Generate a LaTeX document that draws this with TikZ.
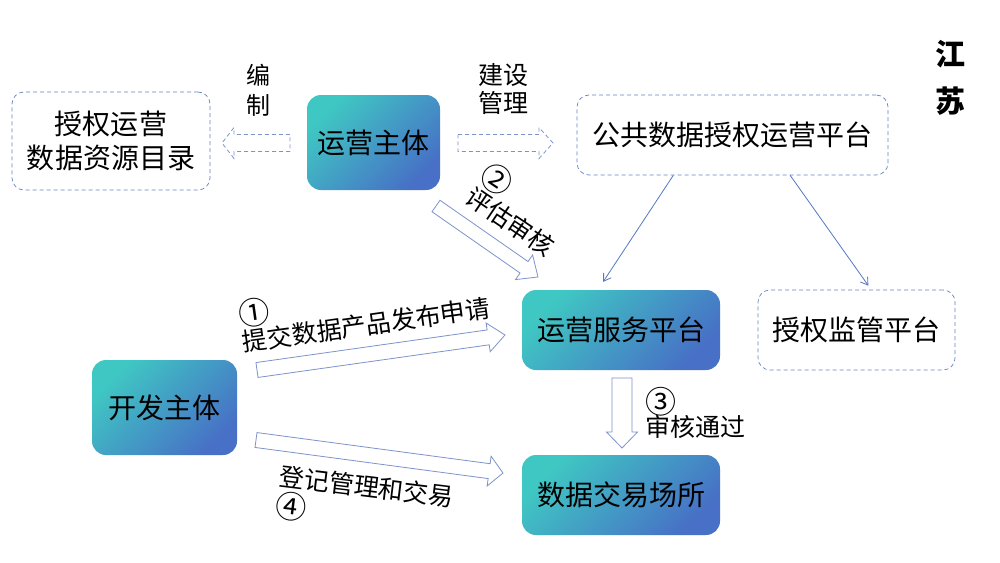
\documentclass[tikz,border=0pt]{standalone}
\usepackage{fontspec}
\setmainfont{Noto Sans CJK SC}
\usepackage{tikz}
\usetikzlibrary{positioning,arrows.meta,calc}
\usepackage{xcolor}
\definecolor{gteal}{HTML}{3FC8C3}
\definecolor{gblue}{HTML}{4770C6}
\definecolor{dashline}{HTML}{6482C2}
\definecolor{arrowline}{HTML}{7D93CB}
\definecolor{linkline}{HTML}{5677C4}
\newcommand\stepnum[1]{\smash{\raisebox{-3pt}{\fontsize{31}{28}\selectfont #1}}}

\begin{document}
\begin{tikzpicture}[
    x=1pt, y=-1pt,
    solidbox/.style={rectangle, rounded corners=14pt, top color=gteal,
        bottom color=gblue, shading angle=45, align=center,
        font=\fontsize{28}{34}\selectfont, inner sep=0pt},
    dashbox/.style={rectangle, rounded corners=12pt, draw=dashline,
        dash pattern=on 4pt off 3pt, line width=0.7pt, align=center,
        font=\fontsize{28}{34}\selectfont, inner sep=0pt},
    blockarrow/.style n args={3}{draw=arrowline, fill=white, line width=0.8pt,
        to path={let \p1=(\tikztostart), \p2=(\tikztotarget),
            \n1={atan2(\y2-\y1,\x2-\x1)} in
            ($(\p1)+(\n1+90:#1)$) -- ($(\p2)+(\n1+180:#3)+(\n1+90:#1)$)
            -- ($(\p2)+(\n1+180:#3)+(\n1+90:#2)$) -- (\p2)
            -- ($(\p2)+(\n1+180:#3)+(\n1-90:#2)$)
            -- ($(\p2)+(\n1+180:#3)+(\n1-90:#1)$)
            -- ($(\p1)+(\n1-90:#1)$) -- cycle}},
    link/.style={-{Straight Barb[length=7pt, width=9pt]}, draw=linkline, line width=0.8pt},
    note/.style={inner sep=0pt, align=left, font=\fontsize{25}{28}\selectfont}
]

\fill[white] (0,0) rectangle (1000,562);

% Boxes
\node[dashbox, minimum width=198pt, minimum height=98pt] (catalog) at (111,141) {授权运营\\数据资源目录};
\node[solidbox, minimum width=133pt, minimum height=95pt] (operator) at (373.5,142.5) {运营主体};
\node[dashbox, minimum width=311pt, minimum height=80pt] (pub) at (732.5,135) {公共数据授权运营平台};
\node[solidbox, minimum width=198pt, minimum height=80pt] (svc) at (621,330) {运营服务平台};
\node[dashbox, minimum width=197pt, minimum height=80pt] (monitor) at (856.5,330) {授权监管平台};
\node[solidbox, minimum width=145pt, minimum height=95pt] (dev) at (164.5,407.5) {开发主体};
\node[solidbox, minimum width=198pt, minimum height=80pt] (exch) at (621,495) {数据交易场所};

% Province
\node[font=\fontsize{30}{47}\selectfont\bfseries, align=center] (prov) at (950,78) {江\\苏};

% Arrow ends
\coordinate (catTip) at (222,143);
\coordinate (catTail) at (290,143);
\coordinate (pubTail) at (458,143);
\coordinate (pubTip) at (553,143);
\coordinate (evalTail) at (436,206);
\coordinate (evalTip) at (538,277);
\coordinate (applyTail) at (257,370);
\coordinate (applyTip) at (505,335);
\coordinate (passTail) at (622,378);
\coordinate (passTip) at (622,448);
\coordinate (regTail) at (256,440);
\coordinate (regTip) at (503,473);

% Hollow arrows
\draw[blockarrow={8.5pt}{15.5pt}{12pt}, dash pattern=on 4pt off 3pt] (catTail) to (catTip);
\draw[blockarrow={8.5pt}{15.5pt}{14pt}, dash pattern=on 4pt off 3pt] (pubTail) to (pubTip);
\draw[blockarrow={7pt}{15pt}{17pt}] (evalTail) to (evalTip);
\draw[blockarrow={7.5pt}{14.5pt}{17pt}] (applyTail) to (applyTip);
\draw[blockarrow={10pt}{15.5pt}{16pt}] (passTail) to (passTip);
\draw[blockarrow={7.5pt}{15pt}{14pt}] (regTail) to (regTip);

% Thin links
\draw[link] ($(pub.south west)!0.31!(pub.south east)$) -- ($(svc.north west)!0.41!(svc.north east)+(0,-8)$);
\draw[link] ($(pub.south west)!0.685!(pub.south east)$) -- ($(monitor.north west)!0.56!(monitor.north east)+(0,-4)$);

% Labels
\node[note, align=center, font=\fontsize{24}{30}\selectfont] (lblEdit) at (258,90) {编\\制};
\node[note, align=center] (lblBuild) at (503,89) {建设\\管理};
\node[note, rotate=-34, anchor=south west] (lblEval) at (462,203) {\stepnum{②}\\评估审核};
\node[note, rotate=8, anchor=south west] (lblApply) at (244,354) {\stepnum{①}\\提交数据产品发布申请};
\node[note, anchor=west, font=\fontsize{25}{26}\selectfont] (lblPass) at (645,425) {\stepnum{③}\\审核通过};
\node[note, rotate=-7, anchor=north west] (lblReg) at (281,464) {登记管理和交易\\\stepnum{④}};

\end{tikzpicture}
\end{document}
